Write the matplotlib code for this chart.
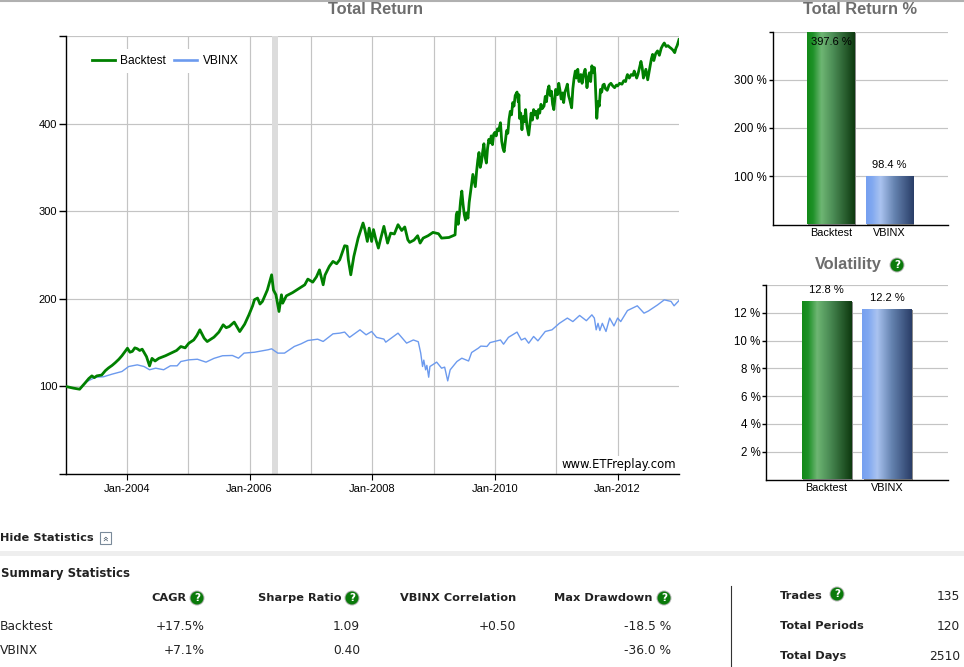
import numpy as np
import matplotlib
matplotlib.use("Agg")
from matplotlib import pyplot as plt
from matplotlib.patches import Circle, Rectangle

# decimal years and index values
back_years = [2003.00, 2003.13, 2003.23, 2003.32, 2003.38, 2003.43, 2003.47, 2003.51, 2003.59, 2003.65, 2003.70, 2003.76, 2003.81, 2003.87, 2003.92,
              2004.01, 2004.05, 2004.09, 2004.13, 2004.17, 2004.21, 2004.25, 2004.32, 2004.37, 2004.41,
              2004.46, 2004.52, 2004.63, 2004.74, 2004.81, 2004.88, 2004.95, 2005.01, 2005.09, 2005.14, 2005.19,
              2005.26, 2005.31, 2005.42, 2005.50, 2005.57, 2005.62, 2005.67, 2005.75, 2005.84, 2005.92, 2005.99,
              2006.05, 2006.08, 2006.13, 2006.17, 2006.21, 2006.29, 2006.36, 2006.39, 2006.43, 2006.48,
              2006.52, 2006.54, 2006.60, 2006.70, 2006.79, 2006.90, 2006.95, 2007.03, 2007.09, 2007.14,
              2007.20, 2007.23, 2007.30, 2007.36, 2007.42, 2007.47, 2007.55, 2007.59, 2007.61, 2007.65,
              2007.70, 2007.77, 2007.85, 2007.88, 2007.92, 2007.95, 2007.99, 2008.02, 2008.06, 2008.10,
              2008.14, 2008.19, 2008.25, 2008.30, 2008.36, 2008.42, 2008.48, 2008.53, 2008.58, 2008.61,
              2008.68, 2008.74, 2008.78, 2008.83, 2008.91, 2008.99, 2009.08, 2009.13, 2009.25,
              2009.35, 2009.37, 2009.385, 2009.40, 2009.42, 2009.44, 2009.46, 2009.48, 2009.50, 2009.52,
              2009.54, 2009.56, 2009.58, 2009.60, 2009.62, 2009.64, 2009.66, 2009.68, 2009.70, 2009.72,
              2009.74, 2009.76, 2009.78, 2009.80, 2009.82, 2009.84, 2009.86, 2009.88, 2009.90, 2009.92,
              2009.94, 2009.96, 2009.98, 2010.00, 2010.02, 2010.04, 2010.06, 2010.09, 2010.11, 2010.13,
              2010.15, 2010.17, 2010.19, 2010.21, 2010.23, 2010.25, 2010.27, 2010.29, 2010.31, 2010.33,
              2010.36, 2010.38, 2010.39, 2010.40, 2010.42, 2010.44, 2010.46, 2010.48, 2010.50, 2010.52,
              2010.55, 2010.57, 2010.59, 2010.61, 2010.63, 2010.65, 2010.67, 2010.69, 2010.71, 2010.73,
              2010.75, 2010.77, 2010.80, 2010.82, 2010.84, 2010.86, 2010.88, 2010.90, 2010.92, 2010.94,
              2010.96, 2010.98, 2010.99, 2011.02, 2011.04, 2011.06, 2011.08, 2011.10, 2011.12, 2011.14,
              2011.16, 2011.18, 2011.20, 2011.22, 2011.25, 2011.27, 2011.29, 2011.31, 2011.33, 2011.35,
              2011.37, 2011.40, 2011.42, 2011.44, 2011.47, 2011.49, 2011.50, 2011.52, 2011.54, 2011.56,
              2011.58, 2011.60, 2011.62, 2011.63, 2011.645, 2011.66, 2011.68, 2011.70, 2011.72, 2011.74,
              2011.76, 2011.78, 2011.80, 2011.83, 2011.86, 2011.89, 2011.92, 2011.95, 2011.98, 2012.00,
              2012.03, 2012.07, 2012.10, 2012.13, 2012.15, 2012.16, 2012.19, 2012.22, 2012.25, 2012.27,
              2012.29, 2012.31, 2012.33, 2012.35, 2012.38, 2012.40, 2012.42, 2012.44, 2012.46, 2012.49,
              2012.51, 2012.53, 2012.55, 2012.57, 2012.59, 2012.62, 2012.65, 2012.68, 2012.71, 2012.74,
              2012.76, 2012.79, 2012.82, 2012.85, 2012.87, 2012.90, 2012.93, 2012.95, 2012.97, 2013.00]
back_values = [100, 98, 96.8, 104, 109, 112, 110, 112, 113, 118, 121, 124, 127, 131, 135,
               143.6, 139, 140, 144, 143, 141, 142.5, 134, 123.4, 132,
               129, 132, 135, 138.6, 141, 145.5, 144, 149.3, 153, 158, 164.6,
               155, 151.2, 156.2, 162, 170.3, 167, 168.4, 173.4, 162.6, 171, 181.7,
               192, 199, 200.8, 194, 197, 210, 227.4, 210, 204.6, 185.5,
               204.6, 195, 203.4, 207, 211, 216, 222.5, 219, 225, 233,
               216, 227, 237, 242.7, 240, 244.6, 260.6, 260, 244.6, 227.4,
               248.4, 269.3, 286.5, 279, 265.5, 280.7, 265.5, 279, 267.4, 257.9,
               269.3, 282.7, 263.6, 275, 274, 284.6, 278, 282, 267.4, 264.4,
               267, 272, 263.6, 269.3, 272, 275.8, 274.3, 269.3, 270,
               273, 296, 299, 285, 296, 312, 323, 308, 296, 290,
               298, 292, 310, 321, 333, 342, 335, 328, 345, 358,
               367, 350, 356, 368, 377, 362, 355, 372, 382, 378,
               386, 376, 388, 390, 386, 394, 392, 401, 380, 372,
               368, 380, 392, 389, 405, 414, 410, 424, 420, 432,
               436, 425, 433, 406, 412, 393, 408, 402, 416, 398,
               387, 400, 412, 404, 416, 410, 414, 406, 416, 412,
               422, 417, 420, 431, 425, 438, 443, 432, 437, 422,
               416, 432, 439, 433, 446, 438, 428, 435, 424, 436,
               440, 445, 432, 427, 418, 440, 452, 460, 452, 462,
               448, 456, 446, 455, 462, 448, 441, 452, 458, 448,
               466, 458, 464, 456, 430, 406, 425, 420, 439, 436,
               444, 445, 440, 438, 444, 446, 443, 441, 444, 443,
               446, 445, 449, 448, 454, 456, 452, 456, 455, 460,
               456, 452, 456, 462, 471, 464, 452, 457, 462, 450,
               458, 466, 474, 479, 472, 480, 483, 478, 486, 490,
               492, 488, 489, 487, 486, 484, 481, 486, 489, 496]

vbinx_years = [2003.00, 2003.13, 2003.23, 2003.35, 2003.49, 2003.62, 2003.76, 2003.92, 2004.03, 2004.17,
               2004.28, 2004.37, 2004.47, 2004.60, 2004.71, 2004.82, 2004.88, 2005.01, 2005.15, 2005.29,
               2005.42, 2005.56, 2005.72, 2005.82, 2005.91, 2006.08, 2006.30, 2006.36, 2006.46, 2006.57,
               2006.73, 2006.84, 2006.95, 2007.11, 2007.20, 2007.36, 2007.47, 2007.55, 2007.63, 2007.80,
               2007.90, 2007.99, 2008.07, 2008.19, 2008.22, 2008.42, 2008.56, 2008.67, 2008.75, 2008.79,
               2008.82, 2008.84, 2008.87, 2008.89, 2008.92, 2008.94, 2009.05, 2009.13, 2009.18, 2009.23,
               2009.27, 2009.38, 2009.46, 2009.57, 2009.62, 2009.73, 2009.77, 2009.87, 2009.92, 2010.09,
               2010.14, 2010.22, 2010.36, 2010.43, 2010.49, 2010.55, 2010.63, 2010.70, 2010.82, 2010.93,
               2011.05, 2011.18, 2011.27, 2011.38, 2011.49, 2011.58, 2011.62, 2011.65, 2011.68, 2011.71,
               2011.75, 2011.81, 2011.87, 2011.94, 2012.00, 2012.05, 2012.16, 2012.32, 2012.43, 2012.50,
               2012.65, 2012.76, 2012.87, 2012.92, 2013.00]
vbinx_values = [100, 98, 96.8, 105.6, 110.5, 111, 114, 117, 122.7, 124.6,
                122.7, 119, 120.8, 119, 123.5, 123.5, 128.4, 130.3, 131, 127.7,
                132, 135, 135.3, 132.2, 138, 139, 141.8, 142.9, 138, 138,
                145.6, 148.6, 152.4, 153.9, 151.3, 160, 160.8, 162, 156, 164.6,
                158.9, 162.7, 156, 154, 150.5, 160.8, 149.4, 153, 151, 138,
                122.7, 130, 118.9, 124, 110.5, 122.7, 127.7, 120.8, 122, 106.3,
                118.9, 128.4, 132.2, 129, 138.7, 143.7, 146, 145.6, 150, 153,
                148.2, 156, 162, 153, 155, 149.3, 157, 152, 162.7, 164.6,
                172, 178, 174, 181, 175, 181.7, 178, 164.6, 172, 163.8,
                172, 162.7, 178, 169, 178, 174, 186.6, 192, 183.6, 186,
                193, 198.8, 197, 192, 198]

year_grid = [2004, 2005, 2006, 2007, 2008, 2009, 2010, 2011, 2012]
year_labels = [2004, 2006, 2008, 2010, 2012]
value_ticks = [0, 100, 200, 300, 400, 500]
shade_span = [2006.367, 2006.465]

bar_names = ["Backtest", "VBINX"]
return_pct = [397.6, 98.4]
vol_pct = [12.8, 12.2]
return_ticks = [100, 200, 300, 400]
vol_ticks = [2, 4, 6, 8, 10, 12, 14]

stat_rows = ["Backtest", "VBINX"]
cagr = ["+17.5%", "+7.1%"]
sharpe = ["1.09", "0.40"]
correlation = ["+0.50", ""]
drawdown = ["-18.5 %", "-36.0 %"]
side_names = ["Trades", "Total Periods", "Total Days"]
side_values = ["135", "120", "2510"]

W, H = 964, 667
GREEN = "#008000"
BLUE = "#6c9aee"
GRID = "#c4c4c4"
plt.rcParams["font.family"] = ["DejaVu Sans"]
TICK_FONT = "Liberation Sans"


def px_axes(fig, left, top, right, bottom):
    return fig.add_axes([left / W, 1 - bottom / H, (right - left) / W, (bottom - top) / H])


def clean_axes(ax):
    ax.spines["top"].set_visible(False)
    ax.spines["right"].set_visible(False)
    ax.spines["left"].set_linewidth(1.0)
    ax.spines["bottom"].set_linewidth(1.0)
    ax.set_axisbelow(True)
    ax.grid(axis="y", color=GRID, lw=0.85)


def gradient_bars(ax, values, stops_list, width):
    for i, v in enumerate(values):
        x0 = i + 1 - width / 2
        x1 = i + 1 + width / 2
        # small grey shadow on the right side
        ax.bar(i + 1 + 0.02, v, width=width, color="#8a8a8a", zorder=2)
        stops = stops_list[i]
        pos = np.linspace(0, 1, 64)
        rgb = np.stack([np.interp(pos, [s[0] for s in stops], [s[c + 1] for s in stops]) for c in range(3)], axis=1)
        ax.imshow(rgb[np.newaxis, :, :] / 255.0, extent=[x0, x1, 0, v], aspect="auto", zorder=3,
                  interpolation="bilinear")


green_stops = [(0, 18, 138, 24), (0.12, 30, 145, 40), (0.3, 110, 182, 115), (0.55, 75, 140, 85), (1, 14, 58, 16)]
blue_stops = [(0, 118, 160, 240), (0.12, 128, 168, 240), (0.3, 170, 195, 240), (0.6, 100, 130, 175), (1, 42, 62, 104)]

fig = plt.figure(figsize=(W / 100, H / 100), dpi=100, facecolor="white")

# main line chart
ax = px_axes(fig, 65.5, 36, 679, 474)
clean_axes(ax)
ax.set_xlim(2003, 2013)
ax.set_ylim(0, 500)
ax.axvspan(shade_span[0], shade_span[1], color="#dcdcdc", lw=0, zorder=1)
ax.plot(vbinx_years, vbinx_values, color=BLUE, lw=1.0, zorder=3, label="VBINX")
ax.plot(back_years, back_values, color=GREEN, lw=2.0, zorder=4, label="Backtest")
ax.set_xticks(year_labels)
ax.set_xticklabels(["Jan-%d" % y for y in year_labels], fontsize=8, family=TICK_FONT)
ax.set_xticks([y for y in year_grid if y not in year_labels], minor=True)
ax.tick_params(axis="x", which="major", length=4, pad=3, width=0.8)
ax.tick_params(axis="x", which="minor", length=0)
ax.grid(axis="x", which="both", color=GRID, lw=0.85)
ax.set_yticks(value_ticks)
ax.set_yticklabels(["", "100", "200", "300", "400", ""], fontsize=8, family=TICK_FONT)
ax.tick_params(axis="y", length=5, width=1.0, pad=1)
h, l = ax.get_legend_handles_labels()
leg = ax.legend(h[::-1], l[::-1], ncol=2, loc="upper left", bbox_to_anchor=(0.024, 0.984), frameon=True, framealpha=1,
                edgecolor="none", facecolor="white", handlelength=1.9, columnspacing=0.7,
                handletextpad=0.45, borderpad=0.5, prop={"family": TICK_FONT, "size": 8.6})
leg.legend_handles[1].set_linewidth(1.9)
ax.text(0.995, 0.022, "www.ETFreplay.com", transform=ax.transAxes, ha="right", va="center", fontsize=8.4,
        zorder=6, bbox=dict(facecolor="white", edgecolor="none", pad=1.5))

# total return bars
ax2 = px_axes(fig, 772.5, 31.5, 947.7, 224.5)
clean_axes(ax2)
gradient_bars(ax2, return_pct, [green_stops, blue_stops], 0.815)
ax2.set_xlim(0, 3)
ax2.set_ylim(0, 400)
ax2.set_xticks([1, 2])
ax2.set_xticklabels(bar_names, fontsize=7.8, family=TICK_FONT)
ax2.tick_params(axis="x", length=0, pad=2.7)
ax2.set_yticks(return_ticks)
ax2.set_yticklabels(["100 %", "200 %", "300 %", ""], fontsize=8.3, family=TICK_FONT)
ax2.tick_params(axis="y", length=3, width=1.0, pad=1)
ax2.text(1, 397.6 - 19, "397.6 %", ha="center", va="center", fontsize=8, family=TICK_FONT, zorder=5)
ax2.text(2, 98.4 + 24, "98.4 %", ha="center", va="center", fontsize=8, family=TICK_FONT, zorder=5)

# volatility bars
ax3 = px_axes(fig, 766, 285, 947.7, 479.5)
clean_axes(ax3)
gradient_bars(ax3, vol_pct, [green_stops, blue_stops], 0.82)
ax3.set_xlim(0, 3)
ax3.set_ylim(0, 14)
ax3.set_xticks([1, 2])
ax3.set_xticklabels(bar_names, fontsize=7.8, family=TICK_FONT)
ax3.tick_params(axis="x", length=0, pad=2.7)
ax3.set_yticks(vol_ticks)
ax3.set_yticklabels(["2 %", "4 %", "6 %", "8 %", "10 %", "12 %", ""], fontsize=8.3, family=TICK_FONT)
ax3.tick_params(axis="y", length=3, width=1.0, pad=1)
for i, v in enumerate(vol_pct):
    ax3.text(i + 1, v + 0.85, "%.1f %%" % v, ha="center", va="center", fontsize=8, family=TICK_FONT, zorder=5)

# page furniture, in pixel coordinates
pg = fig.add_axes([0, 0, 1, 1], zorder=10)
pg.set_xlim(0, W)
pg.set_ylim(H, 0)
pg.axis("off")
pg.patch.set_alpha(0)


def help_icon(x, y, r=6.5):
    pg.add_patch(Circle((x, y), r + 1, fc="#b5b5b5", ec="none"))
    pg.add_patch(Circle((x, y), r, fc="#0a7a0a", ec="none"))
    pg.text(x, y + 0.3, "?", color="white", fontsize=7.5, fontweight="bold", ha="center", va="center")


def bold(x, y, s, ha="left", size=8.2):
    pg.text(x, y, s, fontsize=size, fontweight="bold", ha=ha, va="center", color="#222222", family="DejaVu Sans")


def plain(x, y, s, ha="right", size=8.8):
    pg.text(x, y, s, fontsize=size, ha=ha, va="center", color="#222222", family="DejaVu Sans")


pg.plot([0, W], [1, 1], color="#b0b0b0", lw=1.5)
pg.add_patch(Rectangle((0, 551), W, 5, fc="#eeeeee", ec="none"))
pg.plot([731, 731], [586, 667], color="#333333", lw=0.8)

title_color = "#6d6d6d"
for x, y, s in [(375, 10, "Total Return"), (860, 10, "Total Return %"), (848, 265, "Volatility")]:
    pg.text(x, y, s, fontsize=11.8, fontweight="bold", color=title_color, ha="center", va="center", family="Liberation Sans")
help_icon(897, 265)

bold(0, 538, "Hide Statistics")
pg.add_patch(Rectangle((100, 532), 11, 12, fc="white", ec="#7a8a9a", lw=0.8))
pg.text(105.5, 538, "\u00bb", rotation=90, fontsize=7, ha="center", va="center", color="#445566")
bold(1, 574, "Summary Statistics", size=8.5)

head_y = 598
for right, icon, s in [(186, 197, "CAGR"), (341, 352, "Sharpe Ratio"), (516, None, "VBINX Correlation"), (652, 664, "Max Drawdown")]:
    bold(right, head_y, s, ha="right")
    if icon:
        help_icon(icon, head_y)

for y, name, a, b, c, d in zip([626, 651], stat_rows, cagr, sharpe, correlation, drawdown):
    plain(0, y, name, ha="left")
    plain(205, y, a)
    plain(360, y, b)
    plain(516, y, c)
    plain(671, y, d)

for y, name, val in zip([596, 626, 656], side_names, side_values):
    bold(780, y, name)
    plain(960, y, val)
help_icon(837, 594)

fig.savefig("out.png", dpi=100, facecolor="white")
